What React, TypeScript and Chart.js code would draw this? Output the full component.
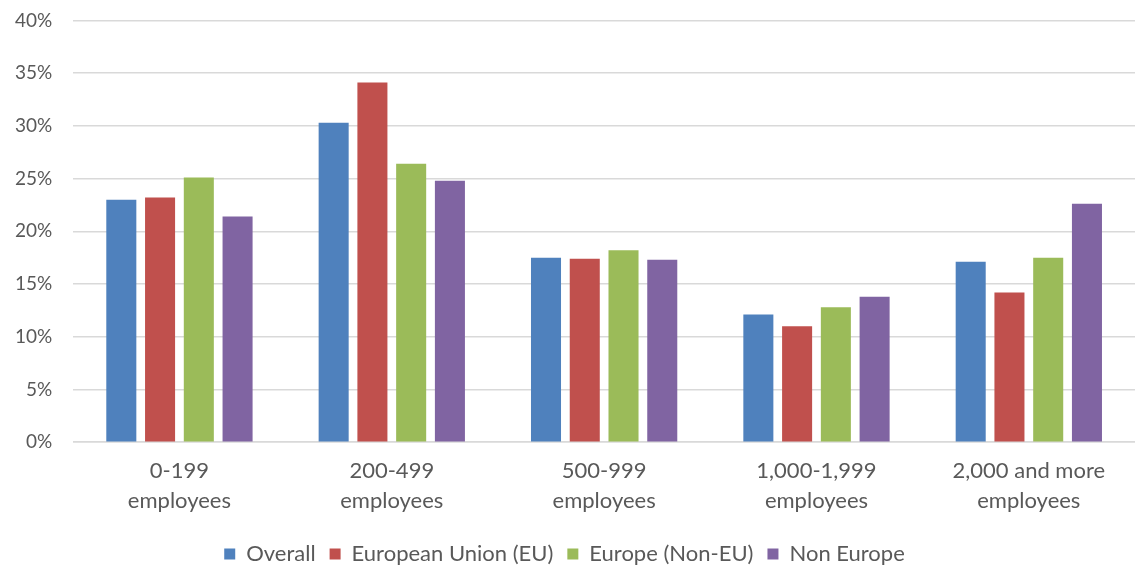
import React, { useEffect, useRef } from "react";
import { Chart, registerables } from "chart.js";

Chart.register(...registerables);

const categories: string[][] = [
  ["0-199", "employees"],
  ["200-499", "employees"],
  ["500-999", "employees"],
  ["1,000-1,999", "employees"],
  ["2,000 and more", "employees"],
];
const overall = [23.0, 30.3, 17.5, 12.1, 17.1];
const europeanUnion = [23.2, 34.1, 17.4, 11.0, 14.2];
const europeNonEU = [25.1, 26.4, 18.2, 12.8, 17.5];
const nonEurope = [21.4, 24.8, 17.3, 13.8, 22.6];
const seriesNames = ["Overall", "European Union (EU)", "Europe (Non-EU)", "Non Europe"];
const colors = ["#4F81BD", "#C0504D", "#9BBB59", "#8064A2"];

const FONT = "Lato, sans-serif";
const SHIFT = 12;
const CANVAS_H = 589;

export default function App() {
  const ref = useRef<HTMLCanvasElement | null>(null);
  useEffect(() => {
    document.body.style.margin = "0";
    const ctx = ref.current!;
    const data = [overall, europeanUnion, europeNonEU, nonEurope];
    const chart = new Chart(ctx, {
      type: "bar",
      data: {
        labels: categories,
        datasets: data.map((d, i) => ({
          label: seriesNames[i],
          data: d,
          backgroundColor: colors[i],
          borderColor: "#ffffff",
          borderWidth: 0,
          categoryPercentage: 0.73,
          barPercentage: 0.775,
        })),
      },
      options: {
        animation: false,
        responsive: false,
        maintainAspectRatio: false,
        layout: { padding: { top: 0, right: 0, left: -6, bottom: 2 } },
        plugins: {
          tooltip: { enabled: false },
          legend: {
            position: "bottom",
            labels: {
              boxWidth: 11,
              boxHeight: 11,
              padding: 14,
              color: "#595959",
              font: { family: FONT, size: 22 },
            },
          },
        },
        scales: {
          x: {
            grid: { display: false, drawTicks: false },
            border: { display: true, color: "#d9d9d9", width: 1.5 },
            ticks: {
              color: "#595959",
              font: { family: FONT, size: 22, lineHeight: 1.36 },
              padding: 13.5,
              maxRotation: 0,
            },
          },
          y: {
            min: 0,
            max: 40,
            grid: { color: "#d9d9d9", lineWidth: 1.5, drawTicks: false },
            border: { display: false },
            ticks: {
              stepSize: 5,
              color: "#595959",
              font: { family: FONT, size: 19 },
              padding: 21,
              callback: (v) => `${v}%`,
            },
          },
        },
      },
    });
    return () => chart.destroy();
  }, []);
  return (
    <div style={{ width: 1135, height: 568, overflow: "hidden", position: "relative" }}>
      <canvas
        ref={ref}
        width={1135}
        height={CANVAS_H}
        style={{ position: "absolute", left: 0, top: -SHIFT, width: 1135, height: CANVAS_H }}
      />
    </div>
  );
}
